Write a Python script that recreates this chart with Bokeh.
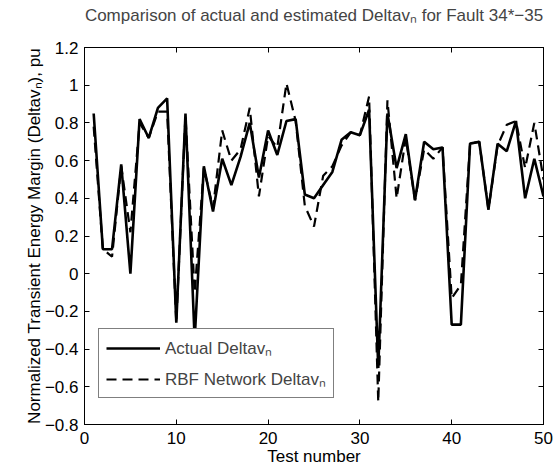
from bokeh.plotting import figure
from bokeh.models import Range1d, LinearAxis, FixedTicker, Legend, LegendItem, ColumnDataSource
from bokeh.embed import file_html
from bokeh.resources import INLINE

# ---- data -------------------------------------------------------------
test_number = list(range(1, 51))
actual = [0.85, 0.13, 0.13, 0.58, 0.00, 0.82, 0.72, 0.88, 0.93, -0.26,
          0.85, -0.35, 0.57, 0.33, 0.61, 0.47, 0.62, 0.80, 0.51, 0.76,
          0.63, 0.81, 0.82, 0.42, 0.40, 0.47, 0.54, 0.71, 0.75, 0.735,
          0.87, -0.50, 0.85, 0.56, 0.74, 0.39, 0.70, 0.66, 0.67, -0.27,
          -0.27, 0.69, 0.70, 0.34, 0.69, 0.65, 0.81, 0.40, 0.61, 0.41]
rbf = [0.78, 0.13, 0.09, 0.57, 0.22, 0.80, 0.72, 0.86, 0.86, -0.26,
       0.84, -0.10, 0.56, 0.35, 0.76, 0.60, 0.66, 0.88, 0.41, 0.73,
       0.67, 1.01, 0.81, 0.36, 0.25, 0.52, 0.57, 0.68, 0.75, 0.735,
       0.94, -0.68, 0.92, 0.40, 0.72, 0.39, 0.66, 0.61, 0.67, -0.13,
       -0.06, 0.69, 0.70, 0.34, 0.68, 0.79, 0.81, 0.56, 0.80, 0.50]
x_ticks = [0, 10, 20, 30, 40, 50]
y_ticks = [-0.8, -0.6, -0.4, -0.2, 0, 0.2, 0.4, 0.6, 0.8, 1, 1.2]
y_tick_labels = ["\u22120.8", "\u22120.6", "\u22120.4", "\u22120.2", "0",
                 "0.2", "0.4", "0.6", "0.8", "1", "1.2"]

title_text = "Comparison of actual and estimated Deltav\u2099 for Fault 34*\u221235"
x_label = "Test number"
y_label = "Normalized Transient Energy Margin (Deltav\u2099), pu"
legend_labels = ["Actual Deltav\u2099", "RBF Network Deltav\u2099"]

FONT = "Liberation Sans"
FS = "17px"

src = ColumnDataSource(dict(x=test_number, actual=actual, rbf=rbf))

p = figure(width=555, height=468, output_backend="svg", toolbar_location=None,
           x_range=Range1d(0, 50), y_range=Range1d(-0.8, 1.2),
           min_border_left=84, min_border_right=12,
           min_border_top=47, min_border_bottom=43)

p.title.text = title_text
p.title.align = "center"
p.title.text_font = FONT
p.title.text_font_size = FS
p.title.text_font_style = "normal"
p.title.standoff = 0

p.xgrid.visible = False
p.ygrid.visible = False
p.outline_line_color = "black"
p.background_fill_color = "white"
p.border_fill_color = "white"

r1 = p.line("x", "actual", source=src, line_color="black", line_width=2.6)
r2 = p.line("x", "rbf", source=src, line_color="black", line_width=2.2,
            line_dash="10 6")

ytick_over = {v: s for v, s in zip(y_ticks, y_tick_labels)}

def style_axis(ax, ticks, labels=True):
    ax.ticker = FixedTicker(ticks=ticks)
    ax.minor_tick_line_color = None
    ax.major_tick_in = 5
    ax.major_tick_out = 0
    ax.axis_line_color = "black"
    ax.major_tick_line_color = "black"
    ax.major_label_text_font = FONT
    ax.major_label_text_color = "black" if labels else None
    ax.major_label_text_font_size = FS
    ax.axis_label_text_font = FONT
    ax.axis_label_text_font_size = FS
    ax.axis_label_text_font_style = "normal"
    ax.axis_label_text_color = "black"
    if not labels:
        ax.major_label_overrides = {t: "" for t in ticks}
        ax.major_label_standoff = 0

xa = p.xaxis[0]
style_axis(xa, x_ticks)
xa.axis_label = x_label
xa.major_label_standoff = 7
xa.axis_label_standoff = 0

ya = p.yaxis[0]
style_axis(ya, y_ticks)
ya.major_label_overrides = ytick_over
ya.axis_label = y_label
ya.major_label_standoff = 6
ya.axis_label_standoff = -2

top_ax = LinearAxis()
style_axis(top_ax, x_ticks, labels=False)
p.add_layout(top_ax, "above")

# invisible spacer between the frame box and the title
spacer_ax = LinearAxis()
style_axis(spacer_ax, x_ticks, labels=False)
spacer_ax.axis_line_color = None
spacer_ax.major_tick_line_color = None
spacer_ax.major_tick_in = 0
spacer_ax.major_tick_out = 23
p.add_layout(spacer_ax, "above")

right_ax = LinearAxis()
style_axis(right_ax, y_ticks, labels=False)
p.add_layout(right_ax, "right")

legend = Legend(items=[LegendItem(label=legend_labels[0], renderers=[r1]),
                       LegendItem(label=legend_labels[1], renderers=[r2])],
                location=(14, 26))
legend.label_text_font = FONT
legend.label_text_font_size = FS
legend.border_line_color = "black"
legend.border_line_width = 1
legend.background_fill_alpha = 1.0
legend.glyph_width = 54
legend.glyph_height = 20
legend.label_height = 20
legend.label_standoff = 5
legend.spacing = 8
legend.padding = 7
legend.margin = 0
p.add_layout(legend, "center")

open("out.html", "w").write(file_html(p, INLINE))
